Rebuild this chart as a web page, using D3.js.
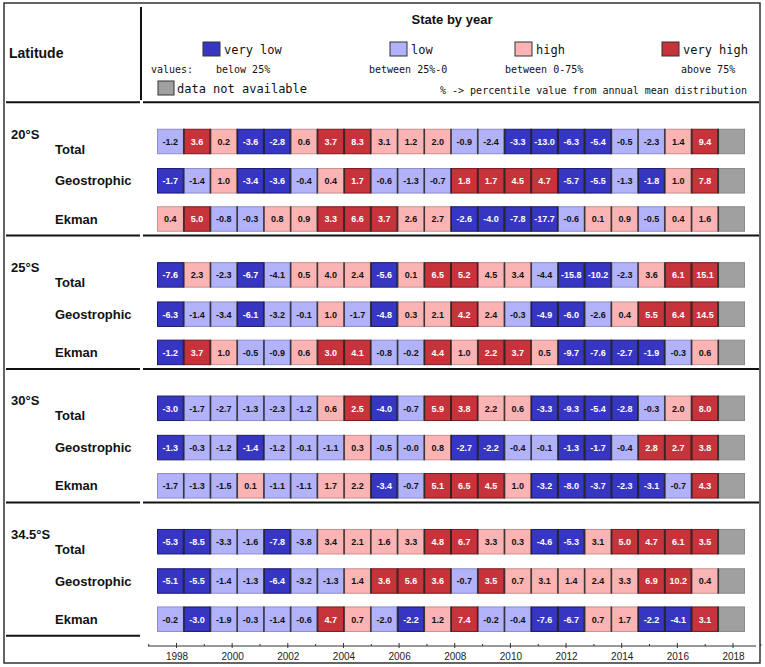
<!DOCTYPE html>
<html>
<head>
<meta charset="utf-8">
<script src="https://cdn.jsdelivr.net/npm/d3@7"></script>
<style>
  body { margin: 0; background: #fff; }
  svg { display: block; }
  .lbl { font-family: "Liberation Sans", Arial, Helvetica, sans-serif; font-weight: bold; fill: #111; }
  .mono { font-family: "DejaVu Sans Mono", monospace; fill: #111; }
  .cell-text { font-family: "Liberation Sans", Arial, sans-serif; font-weight: bold; font-size: 9px; }
  .axis text { font-family: "Liberation Sans", Arial, sans-serif; font-size: 10px; fill: #222; }
</style>
</head>
<body>
<script>
// years of the columns (last one has no data)
var years = [1997, 1998, 1999, 2000, 2001, 2002, 2003, 2004, 2005, 2006, 2007,
             2008, 2009, 2010, 2011, 2012, 2013, 2014, 2015, 2016, 2017, 2018];
var tickYears = [1998, 2000, 2002, 2004, 2006, 2008, 2010, 2012, 2014, 2016, 2018];
var latitudes = ['20°S', '25°S', '30°S', '34.5°S'];
var components = ['Total', 'Geostrophic', 'Ekman'];

// state: 1 very low, 2 low, 3 high, 4 very high
var s20_total = [-1.2, 3.6, 0.2, -3.6, -2.8, 0.6, 3.7, 8.3, 3.1, 1.2, 2.0, -0.9, -2.4, -3.3, -13.0, -6.3, -5.4, -0.5, -2.3, 1.4, 9.4];
var c20_total = [2, 4, 3, 1, 1, 3, 4, 4, 3, 3, 3, 2, 2, 1, 1, 1, 1, 2, 2, 3, 4];
var s20_geo = [-1.7, -1.4, 1.0, -3.4, -3.6, -0.4, 0.4, 1.7, -0.6, -1.3, -0.7, 1.8, 1.7, 4.5, 4.7, -5.7, -5.5, -1.3, -1.8, 1.0, 7.8];
var c20_geo = [1, 2, 3, 1, 1, 2, 3, 4, 2, 2, 2, 4, 4, 4, 4, 1, 1, 2, 1, 3, 4];
var s20_ek = [0.4, 5.0, -0.8, -0.3, 0.8, 0.9, 3.3, 6.6, 3.7, 2.6, 2.7, -2.6, -4.0, -7.8, -17.7, -0.6, 0.1, 0.9, -0.5, 0.4, 1.6];
var c20_ek = [3, 4, 2, 2, 3, 3, 4, 4, 4, 3, 3, 1, 1, 1, 1, 2, 3, 3, 2, 3, 3];

var s25_total = [-7.6, 2.3, -2.3, -6.7, -4.1, 0.5, 4.0, 2.4, -5.6, 0.1, 6.5, 5.2, 4.5, 3.4, -4.4, -15.8, -10.2, -2.3, 3.6, 6.1, 15.1];
var c25_total = [1, 3, 2, 1, 2, 3, 3, 3, 1, 3, 4, 4, 3, 3, 2, 1, 1, 2, 3, 4, 4];
var s25_geo = [-6.3, -1.4, -3.4, -6.1, -3.2, -0.1, 1.0, -1.7, -4.8, 0.3, 2.1, 4.2, 2.4, -0.3, -4.9, -6.0, -2.6, 0.4, 5.5, 6.4, 14.5];
var c25_geo = [1, 2, 2, 1, 2, 2, 3, 2, 1, 3, 3, 4, 3, 2, 1, 1, 2, 3, 4, 4, 4];
var s25_ek = [-1.2, 3.7, 1.0, -0.5, -0.9, 0.6, 3.0, 4.1, -0.8, -0.2, 4.4, 1.0, 2.2, 3.7, 0.5, -9.7, -7.6, -2.7, -1.9, -0.3, 0.6];
var c25_ek = [1, 4, 3, 2, 2, 3, 4, 4, 2, 2, 4, 3, 4, 4, 3, 1, 1, 1, 1, 2, 3];

var s30_total = [-3.0, -1.7, -2.7, -1.3, -2.3, -1.2, 0.6, 2.5, -4.0, -0.7, 5.9, 3.8, 2.2, 0.6, -3.3, -9.3, -5.4, -2.8, -0.3, 2.0, 8.0];
var c30_total = [1, 2, 2, 2, 2, 2, 3, 4, 1, 2, 4, 4, 3, 3, 1, 1, 1, 1, 2, 3, 4];
var s30_geo = [-1.3, -0.3, -1.2, -1.4, -1.2, -0.1, -1.1, 0.3, -0.5, -0.0, 0.8, -2.7, -2.2, -0.4, -0.1, -1.3, -1.7, -0.4, 2.8, 2.7, 3.8];
var c30_geo = [1, 2, 2, 1, 2, 2, 2, 3, 2, 2, 3, 1, 1, 2, 2, 1, 1, 2, 4, 4, 4];
var s30_ek = [-1.7, -1.3, -1.5, 0.1, -1.1, -1.1, 1.7, 2.2, -3.4, -0.7, 5.1, 6.5, 4.5, 1.0, -3.2, -8.0, -3.7, -2.3, -3.1, -0.7, 4.3];
var c30_ek = [2, 2, 2, 3, 2, 2, 3, 3, 1, 2, 4, 4, 4, 3, 1, 1, 1, 1, 1, 2, 4];

var s345_total = [-5.3, -8.5, -3.3, -1.6, -7.8, -3.8, 3.4, 2.1, 1.6, 3.3, 4.8, 6.7, 3.3, 0.3, -4.6, -5.3, 3.1, 5.0, 4.7, 6.1, 3.5];
var c345_total = [1, 1, 2, 2, 1, 2, 3, 3, 3, 3, 4, 4, 3, 3, 1, 1, 3, 4, 4, 4, 4];
var s345_geo = [-5.1, -5.5, -1.4, -1.3, -6.4, -3.2, -1.3, 1.4, 3.6, 5.6, 3.6, -0.7, 3.5, 0.7, 3.1, 1.4, 2.4, 3.3, 6.9, 10.2, 0.4];
var c345_geo = [1, 1, 2, 2, 1, 2, 2, 3, 4, 4, 4, 2, 4, 3, 3, 3, 3, 3, 4, 4, 3];
var s345_ek = [-0.2, -3.0, -1.9, -0.3, -1.4, -0.6, 4.7, 0.7, -2.0, -2.2, 1.2, 7.4, -0.2, -0.4, -7.6, -6.7, 0.7, 1.7, -2.2, -4.1, 3.1];
var c345_ek = [2, 1, 2, 2, 2, 2, 4, 3, 2, 1, 3, 4, 2, 2, 1, 1, 3, 3, 1, 1, 4];

var blocks = [
	[[s20_total, c20_total], [s20_geo, c20_geo], [s20_ek, c20_ek]],
	[[s25_total, c25_total], [s25_geo, c25_geo], [s25_ek, c25_ek]],
	[[s30_total, c30_total], [s30_geo, c30_geo], [s30_ek, c30_ek]],
	[[s345_total, c345_total], [s345_geo, c345_geo], [s345_ek, c345_ek]]
];

var stateNames = ['very low', 'low', 'high', 'very high'];
var stateRange = ['below 25%', 'between 25%-0', 'between 0-75%', 'above 75%'];

// colours
var fills = {0: '#a0a0a0', 1: '#3636c2', 2: '#b2b2fb', 3: '#fcb3b3', 4: '#c6333a'};
var edges = {0: '#8a8a8a', 1: '#1a1a70', 2: '#8c8cc8', 3: '#c89090', 4: '#7a1a1e'};

var W = 765, H = 667;
var svg = d3.select('body').append('svg')
	.attr('width', W)
	.attr('height', H);

// scales
var x = d3.scaleBand().domain(years).range([157, 745]).padding(0);
var xAxisScale = d3.scaleLinear().domain([1998, 2018]).range([176.5, 733]);
var blockY = d3.scaleLinear().domain([0, 3]).range([141.5, 541.7]);
var rowOffset = [0, 39.3, 77.5];
var cellH = 25.5;

// frame
svg.append('rect')
	.attr('x', 4).attr('y', 3)
	.attr('width', 756).attr('height', 660)
	.attr('fill', 'none')
	.attr('stroke', '#333')
	.attr('stroke-width', 1.5);

svg.append('line')
	.attr('x1', 141).attr('x2', 141)
	.attr('y1', 7).attr('y2', 100)
	.attr('stroke', '#111').attr('stroke-width', 2);

// horizontal separators (left and right part)
for (var b = 0; b <= 4; b++) {
	var ly = blockY(b) - 39.3;
	svg.append('line')
		.attr('x1', 6).attr('x2', 140)
		.attr('y1', ly).attr('y2', ly)
		.attr('stroke', '#111').attr('stroke-width', 2);
	if (b < 4) {
		svg.append('line')
			.attr('x1', 143).attr('x2', 759)
			.attr('y1', ly).attr('y2', ly)
			.attr('stroke', '#111').attr('stroke-width', 2);
	}
}

// header
svg.append('text').attr('class', 'lbl')
	.attr('x', 9).attr('y', 58)
	.style('font-size', '14px')
	.text('Latitude');

svg.append('text').attr('class', 'lbl')
	.attr('x', 452).attr('y', 24)
	.attr('text-anchor', 'middle')
	.style('font-size', '13px')
	.text('State by year');

var swatchX = [203, 390, 515, 662];
var rangeX = [216, 369, 505, 681];

stateNames.forEach(function(name, i) {
	svg.append('rect')
		.attr('x', swatchX[i]).attr('y', 42)
		.attr('width', 17).attr('height', 14)
		.attr('fill', fills[i + 1])
		.attr('stroke', '#333').attr('stroke-width', 1);
	svg.append('text').attr('class', 'mono')
		.attr('x', swatchX[i] + 21).attr('y', 54)
		.style('font-size', '12px')
		.text(name);
	svg.append('text').attr('class', 'mono')
		.attr('x', rangeX[i]).attr('y', 73)
		.style('font-size', '10px')
		.text(stateRange[i]);
});

svg.append('text').attr('class', 'mono')
	.attr('x', 151).attr('y', 73)
	.style('font-size', '10px')
	.text('values:');

svg.append('rect')
	.attr('x', 158).attr('y', 81)
	.attr('width', 16).attr('height', 14)
	.attr('fill', fills[0])
	.attr('stroke', '#333').attr('stroke-width', 1);
svg.append('text').attr('class', 'mono')
	.attr('x', 177).attr('y', 93)
	.style('font-size', '12px')
	.text('data not available');

svg.append('text').attr('class', 'mono')
	.attr('x', 440).attr('y', 94)
	.style('font-size', '10px')
	.text('% -> percentile value from annual mean distribution');

// blocks of rows
function fmt(v) {
	if (Object.is(v, -0)) return '-0.0';
	return v.toFixed(1);
}

blocks.forEach(function(rows, b) {
	var yc = blockY(b);

	svg.append('text').attr('class', 'lbl')
		.attr('x', 11).attr('y', yc - 3)
		.style('font-size', '13px')
		.text(latitudes[b]);

	rows.forEach(function(row, r) {
		var cy = yc + rowOffset[r];
		var vals = row[0], cls = row[1];

		svg.append('text').attr('class', 'lbl')
			.attr('x', 55).attr('y', cy + (r == 0 ? 12 : 4.5))
			.style('font-size', '13px')
			.text(components[r]);

		var cells = years.map(function(yr, i) {
			return {year: yr, value: i < vals.length ? vals[i] : null, cls: i < cls.length ? cls[i] : 0};
		});

		var g = svg.append('g');

		g.selectAll('rect')
			.data(cells)
			.enter().append('rect')
			.attr('x', function(d) { return x(d.year) + 0.5; })
			.attr('y', cy - cellH / 2 + 0.5)
			.attr('width', x.bandwidth() - 1)
			.attr('height', cellH - 1)
			.attr('fill', function(d) { return fills[d.cls]; })
			.attr('stroke', function(d) { return edges[d.cls]; })
			.attr('stroke-width', 1);

		// dark separators between cells
		g.selectAll('line')
			.data(cells.slice(1))
			.enter().append('line')
			.attr('x1', function(d) { return x(d.year); })
			.attr('x2', function(d) { return x(d.year); })
			.attr('y1', cy - cellH / 2)
			.attr('y2', cy + cellH / 2)
			.attr('stroke', '#222')
			.attr('stroke-opacity', 0.85)
			.attr('stroke-width', 1.5);

		g.selectAll('text')
			.data(cells.filter(function(d) { return d.value !== null; }))
			.enter().append('text')
			.attr('class', 'cell-text')
			.attr('x', function(d) { return x(d.year) + x.bandwidth() / 2; })
			.attr('y', cy + 3.3)
			.attr('text-anchor', 'middle')
			.attr('fill', function(d) { return (d.cls == 1 || d.cls == 4) ? '#fff' : '#111'; })
			.text(function(d) { return fmt(d.value); });
	});
});

// x axis
var axisY = 646;
svg.append('line')
	.attr('x1', 148).attr('x2', 756)
	.attr('y1', axisY).attr('y2', axisY)
	.attr('stroke', '#333').attr('stroke-width', 1);

var axis = d3.axisBottom(xAxisScale)
	.tickValues(tickYears)
	.tickFormat(d3.format('d'))
	.tickSize(0)
	.tickPadding(7);

var ax = svg.append('g')
	.attr('class', 'axis')
	.attr('transform', 'translate(0,' + axisY + ')')
	.call(axis);
ax.select('.domain').remove();

// major and minor tick marks
svg.selectAll('.tk')
	.data(d3.range(1997, 2020))
	.enter().append('line')
	.attr('class', 'tk')
	.attr('x1', function(d) { return xAxisScale(d); })
	.attr('x2', function(d) { return xAxisScale(d); })
	.attr('y1', function(d) { return axisY - (d % 2 == 0 ? 3 : 2); })
	.attr('y2', function(d) { return axisY + (d % 2 == 0 ? 2 : 0); })
	.attr('stroke', '#333').attr('stroke-width', 1);
</script>
</body>
</html>
